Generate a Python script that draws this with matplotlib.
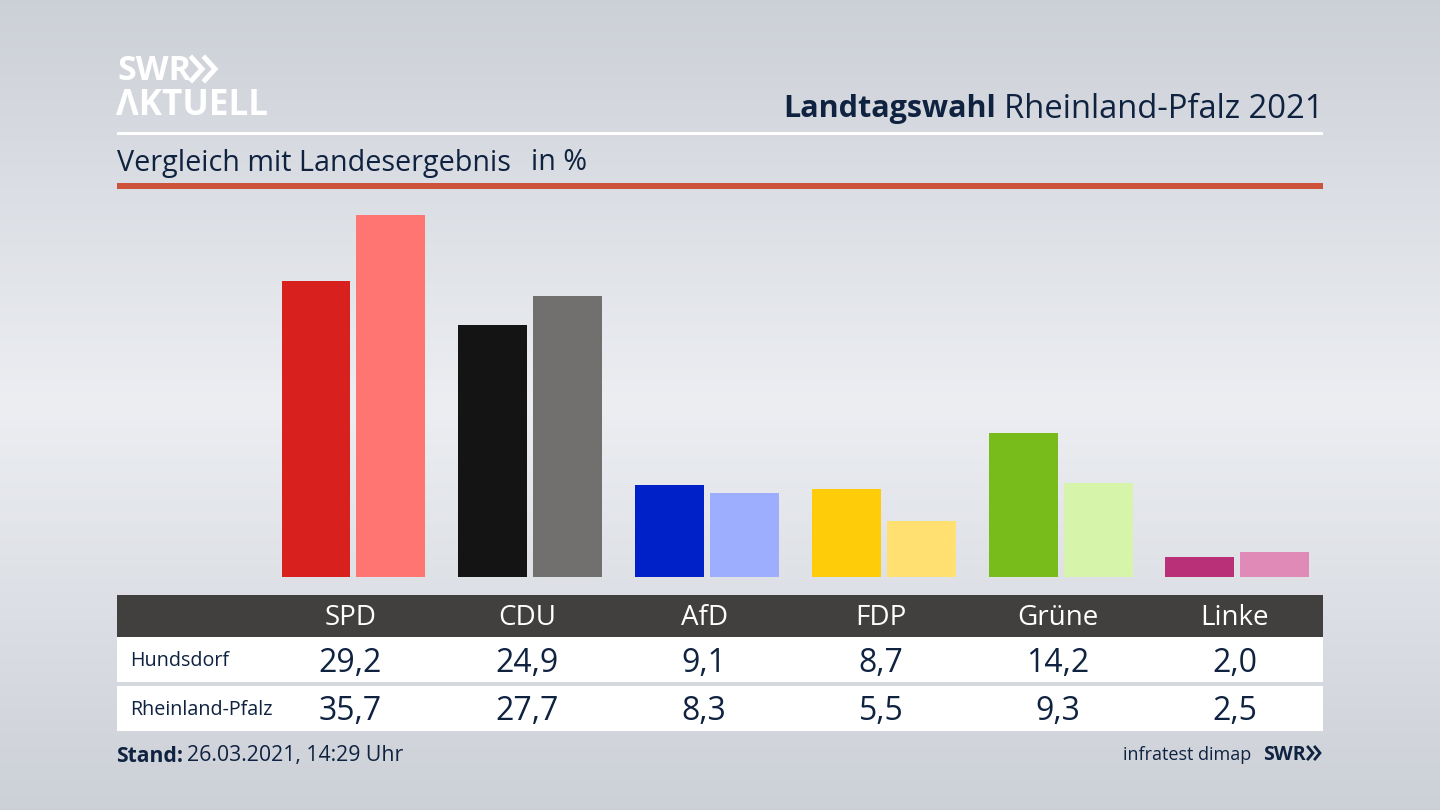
import numpy as np
import matplotlib
matplotlib.use("Agg")
import matplotlib.pyplot as plt
from matplotlib.patches import Rectangle

plt.rcParams['font.family'] = ['Open Sans', 'DejaVu Sans']

parties = ["SPD", "CDU", "AfD", "FDP", "Grüne", "Linke"]
hundsdorf = [29.2, 24.9, 9.1, 8.7, 14.2, 2.0]
landesergebnis = [35.7, 27.7, 8.3, 5.5, 9.3, 2.5]
row_names = ["Hundsdorf", "Rheinland-Pfalz"]
colors_local = ["#d8201f", "#141414", "#0020c8", "#ffcc0a", "#78bc1c", "#b93078"]
colors_land = ["#ff7571", "#72706e", "#9eaeff", "#ffe071", "#d6f5ab", "#e08ab8"]

NAVY = "#0f2240"
DARK = "#42403e"


def fmt(v):
    return ("%.1f" % v).replace(".", ",")


fig = plt.figure(figsize=(14.4, 8.1), dpi=100)

# background and all the furniture in pixel coordinates
bg = fig.add_axes([0, 0, 1, 1])
bg.set_xlim(0, 1440)
bg.set_ylim(810, 0)
bg.axis("off")
yy = np.linspace(0, 1, 256)
shade = 1 - np.abs(yy - 0.5) * 2
low = np.array([0.800, 0.816, 0.843])
high = np.array([0.925, 0.933, 0.949])
grad = low + (high - low) * shade[:, None]
bg.imshow(grad[:, None, :], extent=[0, 1440, 810, 0], aspect="auto", zorder=0)


def box(x, y, w, h, color, z=1):
    bg.add_patch(Rectangle((x, y), w, h, facecolor=color, edgecolor="none", zorder=z))


box(117, 132, 1206, 3, "white")
box(117, 183, 1206, 6, "#cc523a")
box(117, 595, 1206, 42, DARK)
box(117, 637, 1206, 45, "white")
box(117, 686, 1206, 45, "white")

# logo
bg.text(117, 71, "SWR", color="white", fontsize=24.5, fontweight="bold", va="center", ha="left")
bg.text(116, 106, "ΛKTUELL", color="white", fontsize=25.2, fontweight="bold", va="center", ha="left")
for x0 in (192, 205):
    bg.plot([x0, x0 + 10, x0], [58, 69, 80], color="white", lw=3.6, solid_joinstyle="miter", zorder=3)

# heading
t = bg.text(1323, 109, "Rheinland-Pfalz 2021", color=NAVY, fontsize=23.6, va="center", ha="right")
fig.canvas.draw()
ext = t.get_window_extent()
bg.text(ext.x0 - 8, 109, "Landtagswahl", color=NAVY, fontsize=22, fontweight="bold", va="center", ha="right")
bg.text(117, 163, "Vergleich mit Landesergebnis", color=NAVY, fontsize=20.7, va="center", ha="left")
bg.text(531, 163, "in %", color=NAVY, fontsize=20.7, va="center", ha="left")

# bars
ax = fig.add_axes([117 / 1440, (810 - 577) / 810, 1206 / 1440, 387 / 810])
ax.patch.set_alpha(0)
ax.set_xlim(-1.3375, 5.484)
ax.set_ylim(0, 38.17)
ax.axis("off")
xpos = np.arange(len(parties))
ax.bar(xpos - 0.212, hundsdorf, width=0.39, color=colors_local)
ax.bar(xpos + 0.212, landesergebnis, width=0.39, color=colors_land)

# table
centers = 351 + 176.8 * xpos
for cx, p, a, b in zip(centers, parties, hundsdorf, landesergebnis):
    bg.text(cx - 0.5, 618, p, color="white", fontsize=20, va="center", ha="center", zorder=3)
    bg.text(cx - 0.5, 663, fmt(a), color=NAVY, fontsize=23, va="center", ha="center", zorder=3)
    bg.text(cx - 0.5, 712, fmt(b), color=NAVY, fontsize=23, va="center", ha="center", zorder=3)
bg.text(130, 661, row_names[0], color=NAVY, fontsize=14.2, va="center", ha="left", zorder=3)
bg.text(130, 710, row_names[1], color=NAVY, fontsize=14.2, va="center", ha="left", zorder=3)

# footer
bg.text(116, 756, "Stand:", color=NAVY, fontsize=15.2, fontweight="bold", va="center", ha="left")
bg.text(187, 756, "26.03.2021, 14:29 Uhr", color=NAVY, fontsize=15.35, va="center", ha="left")
bg.text(1251, 755, "infratest dimap", color=NAVY, fontsize=13, va="center", ha="right")
bg.text(1263, 755, "SWR", color=NAVY, fontsize=14, fontweight="bold", va="center", ha="left")
for x0 in (1308, 1315):
    bg.plot([x0, x0 + 5, x0], [747, 753, 759], color=NAVY, lw=2, solid_joinstyle="miter", zorder=3)

fig.savefig("out.png", dpi=100)
